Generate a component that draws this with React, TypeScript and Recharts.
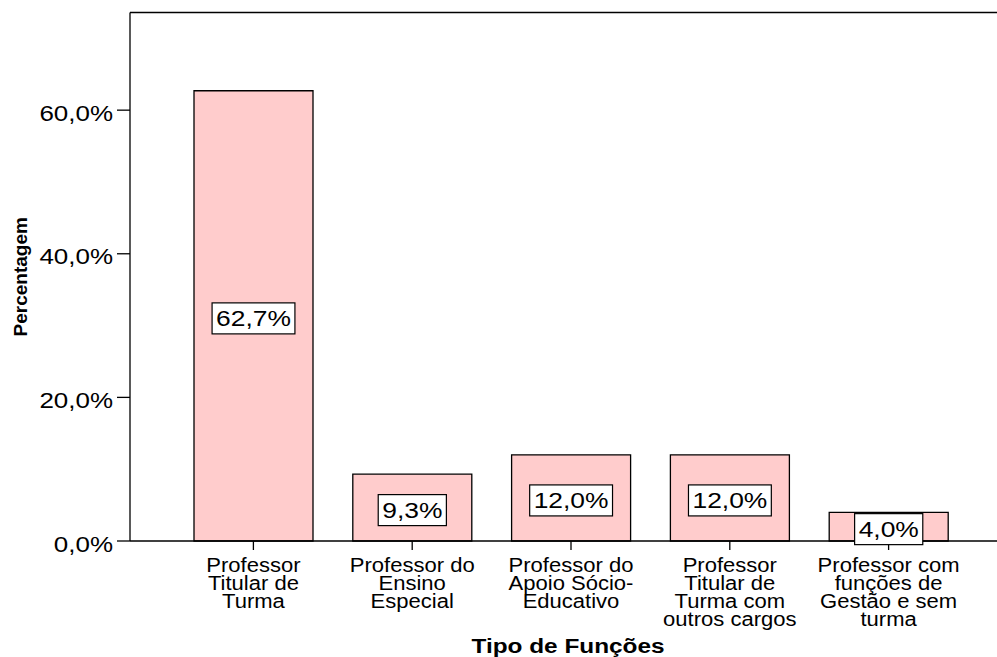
import React from "react";
import { BarChart, Bar, XAxis, YAxis, ReferenceLine, LabelList } from "recharts";

const categories = [
  "Professor\nTitular de\nTurma",
  "Professor do\nEnsino\nEspecial",
  "Professor do\nApoio Sócio-\nEducativo",
  "Professor\nTitular de\nTurma com\noutros cargos",
  "Professor com\nfunções de\nGestão e sem\nturma",
];
const percentages = [62.7, 9.3, 12.0, 12.0, 4.0];
const yTicks = [0, 20, 40, 60];
const yMax = 73.6;

const data = categories.map((name, i) => ({ name, pct: percentages[i] }));

const FONT = '"Liberation Sans", Arial, Helvetica, sans-serif';

const fmtPct = (v: number) => v.toFixed(1).replace(".", ",") + "%";

// rough Arial advances, only used to size the white label boxes
const charW: Record<string, number> = { ",": 0.278, ".": 0.278, "%": 0.889 };
const textWidth = (s: string, size: number) =>
  s.split("").reduce((w, c) => w + (charW[c] ?? 0.556), 0) * size;

// eslint-disable-next-line @typescript-eslint/no-explicit-any
function YTick({ x, y, payload }: any) {
  return (
    <text transform={`translate(${x},${y + 10.5}) scale(1.18,1)`} textAnchor="end" fontFamily={FONT} fontSize={22} fill="#000">
      {fmtPct(Number(payload.value))}
    </text>
  );
}

// eslint-disable-next-line @typescript-eslint/no-explicit-any
function XTick({ x, y, payload }: any) {
  const lines = String(payload.value).split("\n");
  return (
    <g transform={`translate(${x},${y}) scale(1.13,1)`}>
      {lines.map((ln, i) => (
        <text key={i} x={0} y={22 + i * 18} textAnchor="middle" fontFamily={FONT} fontSize={19.5} fill="#000">
          {ln}
        </text>
      ))}
    </g>
  );
}

// eslint-disable-next-line @typescript-eslint/no-explicit-any
function ValueBox({ x, y, width, height, value }: any) {
  const label = fmtPct(Number(value));
  const cx = Number(x) + Number(width) / 2;
  const cy = Number(y) + Number(height) / 2 + 2.5;
  const w = textWidth(label, 22) * 1.2 + 8;
  const h = 31;
  return (
    <g>
      <rect x={cx - w / 2} y={cy - h / 2} width={w} height={h} fill="#fff" stroke="#000" strokeWidth={1.2} />
      <text transform={`translate(${cx},${cy + 8}) scale(1.2,1)`} textAnchor="middle" fontFamily={FONT} fontSize={22} fill="#000">
        {label}
      </text>
    </g>
  );
}

// eslint-disable-next-line @typescript-eslint/no-explicit-any
function YTitle({ viewBox }: any) {
  const cy = viewBox.y + viewBox.height / 2;
  return (
    <text transform={`translate(27,${cy}) rotate(-90)`} textAnchor="middle" fontFamily={FONT} fontSize={19} fontWeight="bold" fill="#000">
      Percentagem
    </text>
  );
}

// eslint-disable-next-line @typescript-eslint/no-explicit-any
function XTitle({ viewBox }: any) {
  const cx = viewBox.x + viewBox.width / 2;
  return (
    <text transform={`translate(${cx - 3},${viewBox.y + 112}) scale(1.25,1)`} textAnchor="middle" fontFamily={FONT} fontSize={19.5} fontWeight="bold" fill="#000">
      Tipo de Funções
    </text>
  );
}

export default function App() {
  return (
    <div style={{ position: "fixed", top: 0, left: 0, width: 997, height: 657, overflow: "hidden", background: "#fff" }}>
      <BarChart width={1012} height={657} data={data} margin={{ top: 12.5, right: 0, bottom: 0, left: 0 }}>
        <XAxis
          dataKey="name"
          interval={0}
          padding={{ left: 44, right: 44 }}
          height={116}
          tickSize={9}
          tickMargin={0}
          axisLine={{ stroke: "#000", strokeWidth: 1.3 }}
          tickLine={{ stroke: "#000", strokeWidth: 1.3 }}
          tick={<XTick />}
          label={<XTitle />}
        />
        <YAxis
          type="number"
          domain={[0, yMax]}
          ticks={yTicks}
          width={130}
          tickSize={13}
          tickMargin={4}
          axisLine={{ stroke: "#000", strokeWidth: 1.3 }}
          tickLine={{ stroke: "#000", strokeWidth: 1.3 }}
          tick={<YTick />}
          label={<YTitle />}
        />
        <ReferenceLine y={yMax} stroke="#000" strokeWidth={1.3} />
        <Bar dataKey="pct" barSize={119} fill="#FFCCCC" stroke="#000" strokeWidth={1.3} isAnimationActive={false}>
          <LabelList dataKey="pct" content={<ValueBox />} />
        </Bar>
      </BarChart>
    </div>
  );
}
